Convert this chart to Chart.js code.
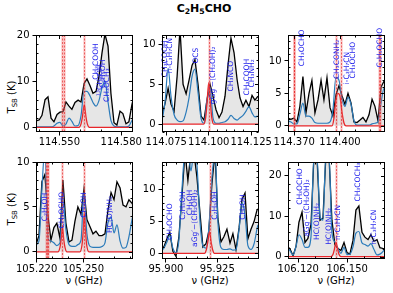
<!DOCTYPE html>
<html>
<head>
<meta charset="utf-8">
<script src="https://cdn.jsdelivr.net/npm/chart.js@4.4.0/dist/chart.umd.min.js"></script>
<style>
  body { margin: 0; background: #fff; }
  #fig { position: relative; width: 393px; height: 293px; overflow: hidden; font-family: "DejaVu Sans", sans-serif; color: #000; }
  #fig canvas { position: absolute; }
  sub { font-size: 70%; vertical-align: -0.3em; line-height: 0; }
  .title { position: absolute; top: 2px; left: 0; width: 408px; text-align: center; font-weight: bold; font-size: 11px; }
  .ylab { position: absolute; width: 60px; height: 12px; line-height: 12px; text-align: center; font-size: 10px; transform: rotate(-90deg); white-space: nowrap; }
  .xlab { position: absolute; width: 80px; text-align: center; font-size: 10px; white-space: nowrap; }
</style>
</head>
<body>
<div id="fig">
  <div class="title">C<sub>2</sub>H<sub>5</sub>CHO</div>
  <div class="ylab" style="left:-18px; top:91px;">T<sub>SB</sub> (K)</div>
  <div class="ylab" style="left:-18px; top:203px;">T<sub>SB</sub> (K)</div>
  <div class="xlab" style="left:44px; top:275px;">ν (GHz)</div>
  <div class="xlab" style="left:170px; top:275px;">ν (GHz)</div>
  <div class="xlab" style="left:296px; top:275px;">ν (GHz)</div>
</div>
<script>
// ---- panel 1 : 114.55 GHz ----
const p1Nu = [114.5387,114.5402,114.5416,114.5431,114.5445,114.5460,114.5474,114.5489,114.5503,114.5518,114.5532,114.5547,114.5561,114.5576,114.5591,114.5605,114.5620,114.5634,114.5649,114.5663,114.5678,114.5692,114.5707,114.5721,114.5736,114.5750,114.5765,114.5779,114.5794,114.5808,114.5823,114.5837,114.5852,114.5862];
const p1Obs = [1.4,1.6,2.6,6.0,6.6,2.0,1.2,2.8,3.3,3.4,5.5,4.6,3.9,5.4,5.9,5.5,9.5,10.5,9.0,7.4,7.8,11.0,16.2,20.2,17.6,7.4,1.0,0.5,3.5,3.0,0.8,1.2,5.0,7.0];
const p1Mod = [0.1,0.1,0.1,0.1,0.1,0.1,0.3,0.9,1.1,0.3,0.7,2.0,1.3,0.3,0.4,2.5,7.8,7.8,6.8,5.4,4.6,5.8,8.6,10.0,5.5,1.5,0.3,0.1,0.1,0.1,0.1,0.3,1.5,2.2];
const p1FitNu = [114.5387,114.5595,114.5605,114.5612,114.5621,114.5629,114.5636,114.5646,114.5857];
const p1Fit = [0,0,0.7,2.3,4.9,2.3,0.7,0,0];
const p1Lines = [114.5513,114.5521,114.5621];
const p1LabText = ['CH₃COOH','¹³CH₃OH','C₂H₅OH','CH₃OCH₃'];
const p1LabNu = [114.5678,114.5695,114.5710,114.5729];
const p1LabK = [10.3,6.8,8.5,5.5];
const p1XTicks = [114.550,114.580];
const p1YTicks = [0,10,20];

// ---- panel 2 : 114.10 GHz ----
const p2Nu = [114.0725,114.0743,114.0761,114.0778,114.0796,114.0814,114.0831,114.0849,114.0867,114.0884,114.0902,114.0919,114.0937,114.0955,114.0972,114.0990,114.1008,114.1025,114.1043,114.1061,114.1078,114.1096,114.1114,114.1131,114.1149,114.1167,114.1184,114.1202,114.1219,114.1237,114.1255,114.1272,114.1290];
const p2Obs = [1.1,2.6,4.5,2.5,1.6,6.0,12.0,5.0,3.8,5.5,7.4,8.1,5.0,1.0,0.5,3.0,5.0,3.5,1.8,0.8,1.5,3.5,7.5,10.8,9.0,5.6,3.3,2.2,3.0,2.2,3.6,3.0,3.5];
const p2Mod = [0.4,2.8,7.0,3.5,1.2,0.5,0.3,0.4,1.5,3.3,6.0,6.9,4.0,0.7,0.1,3.2,4.6,0.8,0.1,0.1,0.2,0.3,0.6,1.1,0.7,0.5,0.8,1.1,1.6,2.2,1.4,0.9,1.0];
const p2FitNu = [114.0725,114.0971,114.0982,114.0990,114.1000,114.1010,114.1018,114.1029,114.1296];
const p2Fit = [0,0,0.8,2.6,5.2,2.6,0.8,0,0];
const p2Lines = [114.1002];
const p2LabText = ['CH₃COOH','n-C₃H₇CN','OCS','gGg′−(CH₂OH)₂','CH₃NCO','CH₃COOH','CH₃NH₂'];
const p2LabNu = [114.0743,114.0772,114.0925,114.1028,114.1133,114.1227,114.1253];
const p2LabK = [5.9,6.4,7.6,2.5,4.1,3.6,4.6];
const p2XTicks = [114.075,114.100,114.125];
const p2YTicks = [0,5,10];

// ---- panel 3 : 114.40 GHz ----
const p3Nu = [114.3659,114.3678,114.3698,114.3718,114.3737,114.3757,114.3777,114.3797,114.3816,114.3836,114.3856,114.3876,114.3895,114.3915,114.3935,114.3954,114.3974,114.3994,114.4014,114.4033,114.4053,114.4073,114.4092,114.4112,114.4132,114.4151,114.4171,114.4191,114.4211,114.4230,114.4250,114.4270,114.4290,114.4296];
const p3Obs = [1.2,1.0,1.2,0.6,3.0,7.6,2.0,5.0,7.0,2.0,4.0,7.0,4.0,7.4,2.8,1.5,4.8,6.2,4.6,3.3,5.0,3.5,0.6,0.5,0.9,1.3,0.6,1.7,4.1,3.0,0.8,6.0,6.9,6.5];
const p3Mod = [0.7,0.6,0.3,0.3,1.8,3.5,1.5,1.5,1.2,0.5,0.4,0.4,0.4,0.4,0.6,2.5,7.5,7.0,4.1,3.0,4.4,3.3,0.8,0.1,0.1,0.1,0.1,0.1,0.3,0.4,0.6,3.5,5.8,5.5];
const p3FitNu = [114.3659,114.3948,114.3961,114.3974,114.3987,114.4000,114.4013,114.4027,114.4040,114.4296];
const p3Fit = [0,0,1.2,4.0,5.0,4.6,2.2,0.4,0,0];
const p3Lines = [114.3697,114.3701,114.3973,114.4006,114.4258,114.4264];
const p3LabText = ['CH₃OCHO','CH₃CONH₂','i-C₃H₇CN','CH₃OCHO','C₂H₅OCHO'];
const p3LabNu = [114.3751,114.3979,114.4045,114.4086,114.4262];
const p3LabK = [9.2,7.2,6.4,7.3,9.0];
const p3XTicks = [114.370,114.400];
const p3YTicks = [0,5,10];

// ---- panel 4 : 105.25 GHz ----
const p4Nu = [105.2196,105.2215,105.2234,105.2253,105.2273,105.2292,105.2311,105.2330,105.2350,105.2369,105.2388,105.2408,105.2427,105.2446,105.2465,105.2485,105.2504,105.2523,105.2543,105.2562,105.2581,105.2601,105.2620,105.2639,105.2658,105.2678,105.2697,105.2716,105.2736,105.2755,105.2774,105.2793,105.2813,105.2819];
const p4Obs = [0.8,1.8,7.8,8.6,4.0,1.3,2.7,3.2,1.5,8.0,3.2,1.1,1.3,3.4,5.0,4.2,7.0,3.6,2.8,2.0,2.3,1.8,1.8,2.0,4.6,6.6,5.8,7.8,7.1,5.2,5.0,5.8,5.4,5.2];
const p4Mod = [0.8,1.2,7.0,11.5,1.5,1.2,1.0,0.7,1.0,5.8,2.5,0.8,0.6,0.6,0.8,1.3,6.6,2.0,0.6,0.5,0.5,0.5,0.6,1.0,3.2,3.9,2.1,3.0,1.2,0.4,0.5,1.7,3.6,4.0];
const p4FitNu = [105.2196,105.2337,105.2350,105.2358,105.2366,105.2374,105.2382,105.2395,105.2478,105.2491,105.2499,105.2506,105.2514,105.2522,105.2536,105.2819];
const p4Fit = [0,0,0.5,1.4,2.8,1.4,0.5,0,0,0.7,2.2,4.3,2.2,0.7,0,0];
const p4Lines = [105.2263,105.2269,105.2275,105.2361,105.2504];
const p4LabText = ['C₂H₅OH','CH₃OCHO','CH₃OH','HC(O)NH₂'];
const p4LabNu = [105.2253,105.2363,105.2504,105.2671];
const p4LabK = [3.4,2.6,3.8,2.1];
const p4XTicks = [105.220,105.250];
const p4YTicks = [0,5,10];

// ---- panel 5 : 95.92 GHz ----
const p5Nu = [95.8976,95.8990,95.9005,95.9019,95.9034,95.9049,95.9063,95.9078,95.9093,95.9107,95.9122,95.9136,95.9151,95.9166,95.9180,95.9195,95.9209,95.9224,95.9239,95.9253,95.9268,95.9282,95.9297,95.9312,95.9326,95.9341,95.9356,95.9370,95.9385,95.9399,95.9414,95.9429,95.9443,95.9448];
const p5Obs = [0.8,1.0,2.3,3.3,0.3,-0.5,2.5,9.0,16,11.5,16,16,12,6.3,1.0,1.5,3.5,11,16,5.5,1.8,2.6,3.8,1.6,3.1,0.6,4.0,8.5,9.5,2.3,3.8,5.0,6.8,7.0];
const p5Mod = [0.3,0.8,1.8,2.8,0.8,0.1,2.0,10,16,16,13,16,14,5.0,1.2,0.8,4.0,12,16,5.0,0.9,0.6,0.6,0.7,0.5,0.6,3.8,8.0,6.0,1.2,0.6,1.5,3.8,4.5];
const p5FitNu = [95.8981,95.9188,95.9197,95.9204,95.9212,95.9220,95.9227,95.9236,95.9453];
const p5Fit = [0,0,0.6,1.8,3.4,1.8,0.6,0,0];
const p5Lines = [95.9214];
const p5LabText = ['CH₃OCHO','C₂H₅OH','CH₃OH','aGg′−(CH₂OH)₂','C₂H₅OH','CH₃OH'];
const p5LabNu = [95.9019,95.9085,95.9117,95.9141,95.9239,95.9377];
const p5LabK = [2.1,5.3,6.0,1.0,5.3,5.3];
const p5XTicks = [95.900,95.925];
const p5YTicks = [0,5,10];

// ---- panel 6 : 106.14 GHz ----
const p6Nu = [106.1131,106.1149,106.1168,106.1186,106.1204,106.1223,106.1241,106.1259,106.1278,106.1296,106.1314,106.1333,106.1351,106.1369,106.1388,106.1406,106.1424,106.1443,106.1461,106.1480,106.1498,106.1516,106.1535,106.1553,106.1571,106.1590,106.1608,106.1627,106.1645,106.1663,106.1682,106.1700,106.1718,106.1724];
const p6Obs = [2.6,1.9,0.2,2.5,8.5,11.0,3.5,4.5,8.0,25,25,9.0,9.5,25,25,9.0,3.0,2.0,1.5,3.5,1.0,0.6,4.0,11.5,12.5,6.0,4.8,4.2,5.4,3.8,4.2,2.2,2.0,1.6];
const p6Mod = [2.3,1.5,0.4,2.5,5.4,4.2,2.3,2.3,5.0,25,25,10,9,25,25,6.0,3.6,2.0,0.8,2.3,0.5,0.6,2.4,5.8,6.2,3.4,3.0,2.6,3.2,1.8,0.4,0.6,1.2,1.6];
const p6FitNu = [106.1137,106.1400,106.1413,106.1421,106.1431,106.1441,106.1449,106.1462,106.1731];
const p6Fit = [0,0,0.6,1.8,3.6,1.8,0.6,0,0];
const p6Lines = [106.1429];
const p6LabText = ['CH₃OCHO','aGg′−(CH₂OH)₂','HC(O)NH₂','HC(O)NH₂','n-C₃H₇CN','CH₃COCH₃','n-C₃H₇CN'];
const p6LabNu = [106.1212,106.1251,106.1313,106.1390,106.1441,106.1564,106.1665];
const p6LabK = [12.8,4.9,4.1,2.9,4.1,13.6,2.9];
const p6XTicks = [106.120,106.150];
const p6YTicks = [0,10,20];

const BLUE = '#2b7bba';
const RED = '#e8262a';
const FONT = 'DejaVu Sans';

const panels = [
  {L: 36,  T: 35,  nu: p1Nu, obs: p1Obs, mod: p1Mod, fitNu: p1FitNu, fit: p1Fit, lines: p1Lines, labText: p1LabText, labNu: p1LabNu, labK: p1LabK, xTicks: p1XTicks, yTicks: p1YTicks, xMin: 114.5387, xMax: 114.5857, yMin: -1, yMax: 20, xMinor: 0.01, yMinor: 2},
  {L: 162, T: 35,  nu: p2Nu, obs: p2Obs, mod: p2Mod, fitNu: p2FitNu, fit: p2Fit, lines: p2Lines, labText: p2LabText, labNu: p2LabNu, labK: p2LabK, xTicks: p2XTicks, yTicks: p2YTicks, xMin: 114.0725, xMax: 114.1296, yMin: -1, yMax: 11.2, xMinor: 0.005, yMinor: 1},
  {L: 288, T: 35,  nu: p3Nu, obs: p3Obs, mod: p3Mod, fitNu: p3FitNu, fit: p3Fit, lines: p3Lines, labText: p3LabText, labNu: p3LabNu, labK: p3LabK, xTicks: p3XTicks, yTicks: p3YTicks, xMin: 114.3659, xMax: 114.4296, yMin: -0.95, yMax: 14, xMinor: 0.01, yMinor: 1},
  {L: 36,  T: 162, nu: p4Nu, obs: p4Obs, mod: p4Mod, fitNu: p4FitNu, fit: p4Fit, lines: p4Lines, labText: p4LabText, labNu: p4LabNu, labK: p4LabK, xTicks: p4XTicks, yTicks: p4YTicks, xMin: 105.2196, xMax: 105.2819, yMin: -0.8, yMax: 10, xMinor: 0.01, yMinor: 1},
  {L: 162, T: 162, nu: p5Nu, obs: p5Obs, mod: p5Mod, fitNu: p5FitNu, fit: p5Fit, lines: p5Lines, labText: p5LabText, labNu: p5LabNu, labK: p5LabK, xTicks: p5XTicks, yTicks: p5YTicks, xMin: 95.8981, xMax: 95.9453, yMin: -0.9, yMax: 14.4, xMinor: 0.005, yMinor: 1},
  {L: 288, T: 162, nu: p6Nu, obs: p6Obs, mod: p6Mod, fitNu: p6FitNu, fit: p6Fit, lines: p6Lines, labText: p6LabText, labNu: p6LabNu, labK: p6LabK, xTicks: p6XTicks, yTicks: p6YTicks, xMin: 106.1137, xMax: 106.1731, yMin: -0.6, yMax: 23.4, xMinor: 0.01, yMinor: 2}
];

const W = 97, H = 97;

const pts = (xs, ys) => xs.map((x, i) => ({x: x, y: ys[i]}));

const minorVals = (t0, step, lo, hi) => {
  const out = [];
  const k0 = Math.ceil((lo - t0) / step - 1e-9);
  const k1 = Math.floor((hi - t0) / step + 1e-9);
  for (let k = k0; k <= k1; k++) out.push(t0 + k * step);
  return out;
};

// transition markers, species labels, frame and inner ticks
const decor = (p) => ({
  id: 'decor',
  afterDatasetsDraw(chart) {
    const {ctx, chartArea: a, scales: {x, y}} = chart;
    ctx.save();
    ctx.beginPath();
    ctx.rect(a.left, a.top, a.right - a.left, a.bottom - a.top);
    ctx.clip();
    p.lines.forEach(v => {
      const px = Math.round(x.getPixelForValue(v)) + 0.5;
      ctx.setLineDash([]);
      ctx.lineWidth = 2.5;
      ctx.strokeStyle = 'rgba(240,110,110,0.35)';
      ctx.beginPath(); ctx.moveTo(px, a.top); ctx.lineTo(px, a.bottom); ctx.stroke();
      ctx.setLineDash([2, 1.5]);
      ctx.lineWidth = 1;
      ctx.strokeStyle = 'rgba(225,20,20,0.6)';
      ctx.beginPath(); ctx.moveTo(px, a.top); ctx.lineTo(px, a.bottom); ctx.stroke();
    });
    ctx.restore();

    ctx.save();
    ctx.font = '7.5px "' + FONT + '"';
    ctx.fillStyle = 'rgb(30,30,235)';
    ctx.textAlign = 'left';
    ctx.textBaseline = 'middle';
    p.labText.forEach((t, i) => {
      ctx.save();
      ctx.translate(x.getPixelForValue(p.labNu[i]), y.getPixelForValue(p.labK[i]));
      ctx.rotate(-Math.PI / 2);
      ctx.fillText(t, 0, 0);
      ctx.restore();
    });
    ctx.restore();
  },
  afterDraw(chart) {
    const {ctx, chartArea: a, scales: {x, y}} = chart;
    const x0 = Math.round(a.left) + 0.5, x1 = Math.round(a.right) - 0.5;
    const y0 = Math.round(a.top) + 0.5, y1 = Math.round(a.bottom) - 0.5;
    ctx.save();
    ctx.strokeStyle = '#000';
    ctx.lineWidth = 1;
    ctx.setLineDash([]);
    ctx.strokeRect(x0, y0, x1 - x0, y1 - y0);
    ctx.beginPath();
    minorVals(p.xTicks[0], p.xMinor, p.xMin, p.xMax).forEach(v => {
      const px = Math.round(x.getPixelForValue(v)) + 0.5;
      const major = p.xTicks.some(t => Math.abs(t - v) < 1e-6);
      const len = major ? 3.5 : 2;
      ctx.moveTo(px, y0); ctx.lineTo(px, y0 + len);
      if (!major) { ctx.moveTo(px, y1); ctx.lineTo(px, y1 - len); }
    });
    minorVals(p.yTicks[0], p.yMinor, p.yMin, p.yMax).forEach(v => {
      const py = Math.round(y.getPixelForValue(v)) + 0.5;
      const major = p.yTicks.some(t => Math.abs(t - v) < 1e-6);
      const len = major ? 3.5 : 2;
      ctx.moveTo(x1, py); ctx.lineTo(x1 - len, py);
      if (!major) { ctx.moveTo(x0, py); ctx.lineTo(x0 + len, py); }
    });
    ctx.stroke();
    ctx.restore();
  }
});

const fig = document.getElementById('fig');

panels.forEach(p => {
  const canvas = document.createElement('canvas');
  canvas.width = W + 70;
  canvas.height = H + 40;
  canvas.style.left = (p.L - 40) + 'px';
  canvas.style.top = (p.T - 10) + 'px';
  fig.appendChild(canvas);

  new Chart(canvas, {
    type: 'line',
    data: {
      datasets: [
        {data: pts(p.fitNu, p.fit), borderColor: RED, borderWidth: 1.3, pointRadius: 0, cubicInterpolationMode: 'monotone', fill: false, order: 1},
        {data: pts(p.nu, p.mod), borderColor: BLUE, borderWidth: 1.2, pointRadius: 0, cubicInterpolationMode: 'monotone', fill: false, order: 2},
        {data: pts(p.nu, p.obs), borderColor: '#000', borderWidth: 1.3, pointRadius: 0, tension: 0, fill: {value: 0}, backgroundColor: '#e6e6e6', order: 3}
      ]
    },
    options: {
      responsive: false,
      animation: false,
      events: [],
      layout: {padding: {left: 0, top: 10, right: 30, bottom: 0}},
      plugins: {legend: {display: false}, tooltip: {enabled: false}},
      scales: {
        x: {
          type: 'linear', min: p.xMin, max: p.xMax,
          afterBuildTicks: s => { s.ticks = p.xTicks.map(v => ({value: v})); },
          afterFit: s => { s.height = 30; },
          ticks: {autoSkip: false, maxRotation: 0, minRotation: 0, color: '#000', padding: 1,
                  font: {family: FONT, size: 10}, callback: v => v.toFixed(3)},
          grid: {drawOnChartArea: false, drawTicks: true, tickLength: 3.5, color: '#000'},
          border: {display: false}
        },
        y: {
          type: 'linear', min: p.yMin, max: p.yMax,
          afterBuildTicks: s => { s.ticks = p.yTicks.map(v => ({value: v})); },
          afterFit: s => { s.width = 40; },
          ticks: {color: '#000', padding: 3, font: {family: FONT, size: 10}, callback: v => String(v)},
          grid: {drawOnChartArea: false, drawTicks: true, tickLength: 3.5, color: '#000'},
          border: {display: false}
        }
      }
    },
    plugins: [decor(p)]
  });
});
</script>
</body>
</html>
